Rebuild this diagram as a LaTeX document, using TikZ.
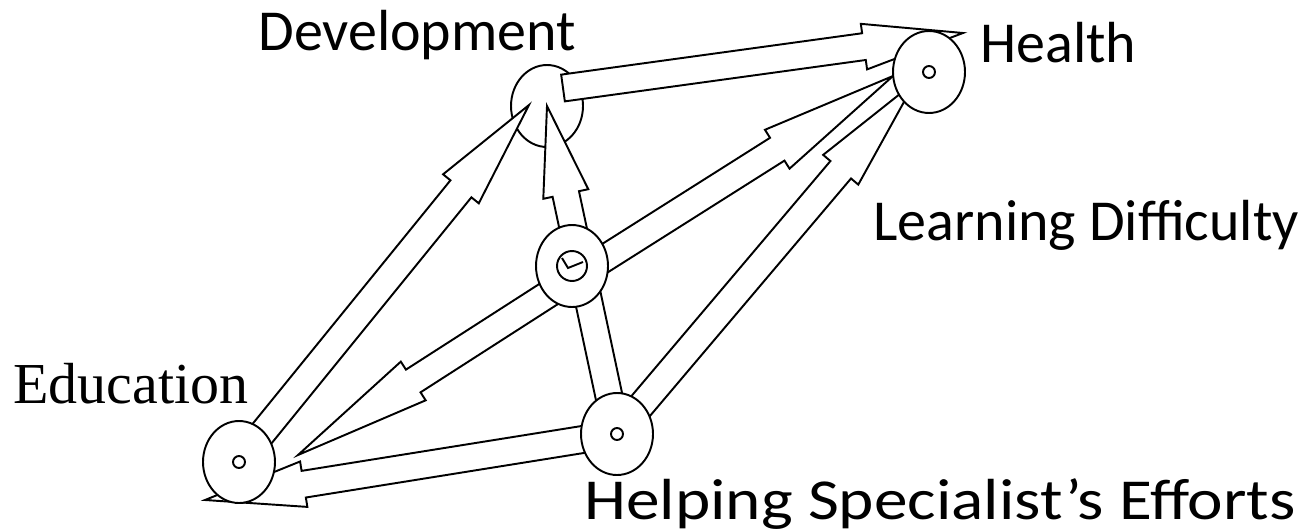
\documentclass[tikz,border=0pt]{standalone}
\usepackage{fontspec}
\setmainfont{Carlito}
\newfontfamily\timesfont{Liberation Serif}
\usetikzlibrary{calc,shapes.geometric}

\tikzset{
  station/.style={ellipse, draw, fill=white, line width=1.1pt,
    minimum width=1.44cm, minimum height=1.64cm, inner sep=0pt},
  arrowbody/.style={draw, fill=white, line width=1.1pt},
  tag/.style={anchor=base west, inner sep=0pt, font=\fontsize{33}{39}\selectfont}
}

\newcommand{\shaftw}{0.27cm}
\newcommand{\headw}{0.46cm}
% hollow block arrow from #2 to #3, head length #1
\newcommand{\blockarrow}[3][2.2cm]{%
  \coordinate (neck) at ($(#3)!#1!(#2)$);
  \draw[arrowbody] ($(#2)!\shaftw!90:(#3)$) -- ($(neck)!\shaftw!90:(#3)$)
    -- ($(neck)!\headw!90:(#3)$) -- (#3) -- ($(neck)!\headw!-90:(#3)$)
    -- ($(neck)!\shaftw!-90:(#3)$) -- ($(#2)!\shaftw!-90:(#3)$) -- cycle;
}

\begin{document}
\begin{tikzpicture}[x=0.02cm, y=-0.02cm]
        \useasboundingbox (0,0) rectangle (1308,531);

        % Coordinates
        \coordinate (edu) at (239,462);
        \coordinate (dev) at (547,106);
        \coordinate (hlth) at (929,72);
        \coordinate (ld) at (572,266);
        \coordinate (help) at (617,434);
        \coordinate (ldlow) at (572,279);
        \coordinate (devtail) at (563,88);
        \coordinate (e2d) at (529,105);
        \coordinate (d2h) at (963,33);
        \coordinate (l2h) at (893,76);
        \coordinate (h2h) at (915,82);
        \coordinate (l2e) at (298,455);
        \coordinate (h2e) at (205,500);

        % Development sits under the arrows
        \node[station] (devnode) at (dev) {};

        % Arrows
        \blockarrow[1.8cm]{help}{dev}
        \blockarrow[2.16cm]{edu}{e2d}
        \blockarrow[2.74cm]{ldlow}{l2h}
        \blockarrow[2.3cm]{help}{h2h}
        \blockarrow[2.74cm]{ldlow}{l2e}
        \blockarrow[2.0cm]{help}{h2e}
        \blockarrow[2.0cm]{devtail}{d2h}

        % Circles
        \node[station] (edunode) at (edu) {};
        \node[station] (hlthnode) at (hlth) {};
        \node[station] (ldnode) at (ld) {};
        \node[station] (helpnode) at (help) {};
        \draw[line width=1.1pt] (edu) circle [radius=6];
        \draw[line width=1.1pt] (hlth) circle [radius=6];
        \draw[line width=1.1pt] (help) circle [radius=6];
        \draw[line width=1.1pt] (ld) circle [radius=15];
        \draw[line width=1.1pt] ($(ld)+(-10,-8)$) -- ($(ld)+(-4,2)$) -- ($(ld)+(11,-4)$);

        % Labels
        \node[tag] (devtext) at (258,50) {Development};
        \node[tag] (hlthtext) at (980,62) {Health};
        \node[tag] (ldtext) at (873,240) {Learning Difficulty};
        \node[tag, font=\timesfont\fontsize{33}{39}\selectfont] (edutext) at (13,403) {Education};
        \node[tag, xscale=1.16] (helptext) at (584,519) {Helping Specialist’s Efforts};
\end{tikzpicture}
\end{document}
